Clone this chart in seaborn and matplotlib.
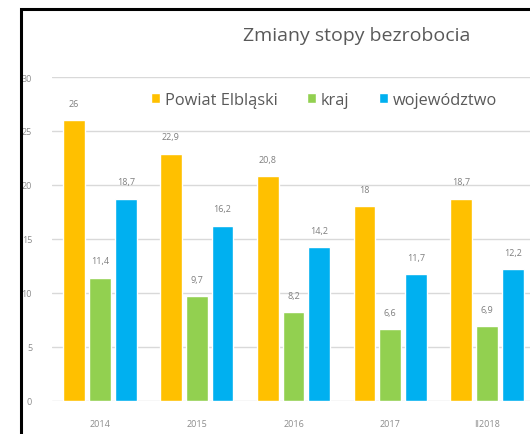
import pandas as pd
import matplotlib.pyplot as plt
import seaborn as sns
from matplotlib.patches import Rectangle

years = ["2014", "2015", "2016", "2017", "II2018"]
powiat = [26, 22.9, 20.8, 18, 18.7]
kraj = [11.4, 9.7, 8.2, 6.6, 6.9]
wojewodztwo = [18.7, 16.2, 14.2, 11.7, 12.2]
series_names = ["Powiat Elbląski", "kraj", "województwo"]
colors = ["#FFC000", "#92D050", "#00B0F0"]

df = pd.DataFrame({
    "rok": years * 3,
    "seria": [series_names[0]] * 5 + [series_names[1]] * 5 + [series_names[2]] * 5,
    "wartosc": powiat + kraj + wojewodztwo,
})

sns.set_style("white")
plt.rcParams['font.family'] = ['Open Sans', 'DejaVu Sans']

W, H = 530, 435
fig = plt.figure(figsize=(W / 100, H / 100), dpi=100)
ax = fig.add_axes([51.5 / W, 33.3 / H, 484 / W, 323.7 / H])

sns.barplot(data=df, x="rok", y="wartosc", hue="seria", palette=colors,
            width=0.8, gap=0.15, ax=ax, zorder=3, saturation=1)

for cont in ax.containers:
    labels = [f"{b.get_height():g}".replace(".", ",") for b in cont]
    ax.bar_label(cont, labels=labels, padding=9, fontsize=6.5, color="#7f7f7f")

ax.set_ylim(0, 30)
ax.set_xlim(-0.5, 4.5)
ax.set_yticks([0, 5, 10, 15, 20, 25, 30])
ax.yaxis.grid(True, color="#d9d9d9", linewidth=1, zorder=0)
ax.set_axisbelow(True)
ax.tick_params(axis="both", length=0, labelsize=6.5, labelcolor="#8c8c8c")
ax.tick_params(axis="y", pad=14)
ax.tick_params(axis="x", pad=13)
ax.set_xlabel("")
ax.set_ylabel("")
for s in ax.spines.values():
    s.set_visible(False)

ax.legend(loc="center", bbox_to_anchor=(324 / W, 1 - 101 / H),
          bbox_transform=fig.transFigure, ncol=3, frameon=False,
          fontsize=11.8, handlelength=0.55, handleheight=0.55,
          handletextpad=0.3, columnspacing=1.8, labelcolor="#595959")

fig.text(357 / W, 1 - 36 / H, "Zmiany stopy bezrobocia", ha="center",
         va="center", fontsize=14, color="#595959")

# black frame around the chart (right and bottom edges fall outside the picture)
fig.patches.append(Rectangle((21 / W, -0.2), 2, 1.2 - 10 / H,
                             transform=fig.transFigure, fill=False,
                             edgecolor="black", linewidth=2.2))

fig.savefig("out.png", dpi=100)
